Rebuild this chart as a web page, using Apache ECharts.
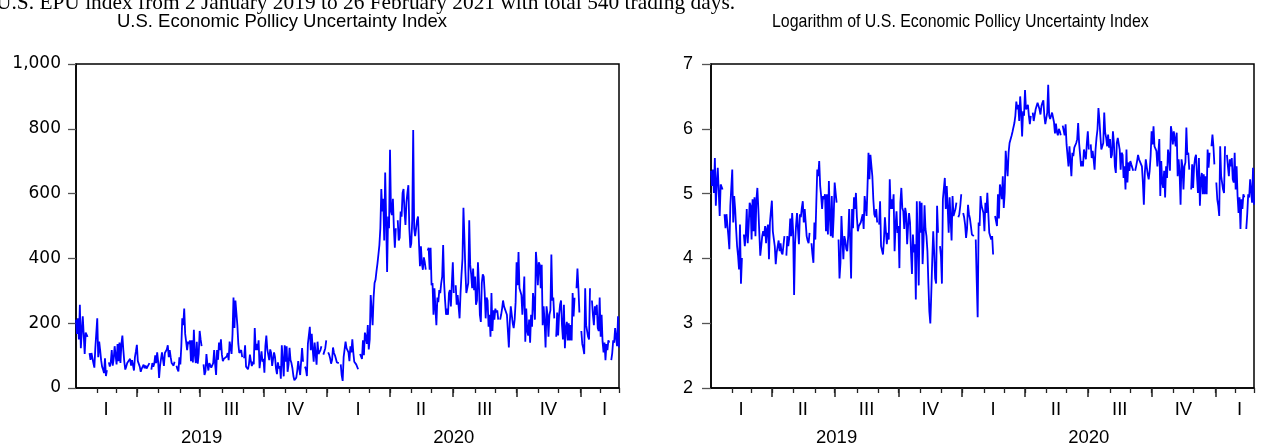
<!DOCTYPE html>
<html><head><meta charset="utf-8">
<script src="https://cdn.jsdelivr.net/npm/echarts@6/dist/echarts.min.js"></script>
<style>html,body{margin:0;padding:0;background:#fff}#c{width:1264px;height:448px}</style>
</head><body><div id="c"></div>
<script>
// ---- DATA ----
const startDate = '2019-01-02';
const endDate = '2021-02-26';
const holidays = ['2019-01-21','2019-02-18','2019-04-19','2019-05-27','2019-07-04','2019-09-02','2019-11-28','2019-12-25',
  '2020-01-01','2020-01-20','2020-02-17','2020-04-10','2020-05-25','2020-07-03','2020-09-07','2020-11-26','2020-12-25',
  '2021-01-01','2021-01-18','2021-02-15'];
const quarterNames = ['I','II','III','IV'];
const yearLabels = ['2019','2020'];
const headerText = 'U.S. EPU index from 2 January 2019 to 26 February 2021 with total 540 trading days.';
const titleLeft = 'U.S. Economic Pollicy Uncertainty Index';
const titleRight = 'Logarithm of U.S. Economic Pollicy Uncertainty Index';
// EPU daily values, one per trading day (holidays are missing)
const epuValues = [
211,167,215,150,257,123,176,221,226,105,171,176,158,
108,87,108,105,77,63,123,125,215,95,143,117,86,66,57,46,92,37,55,79,66,79,117,69,90,129,123,73,136,83,140,77,136,162,117,81,57,66,77,83,77,90,69,86,92,54,95,113,133,83,81,66,50,60,61,72,61,69,60,58,58,77,57,77,66,75,101,77,110,83,31,69,90,110,108,68,108,103,119,132,95,117,95,77,72,69,81,69,58,51,95,73,129,215,194,245,167,143,117,143,136,147,83,147,79,180,103,77,143,75,105,176,150,129,
73,40,51,105,73,54,77,72,63,61,77,117,73,40,117,87,140,117,150,103,83,90,92,95,97,108,86,143,143,105,167,279,185,270,265,194,136,108,103,117,95,92,132,66,66,58,73,103,83,68,81,73,185,117,136,117,147,61,90,113,81,90,47,129,162,119,113,86,119,108,68,90,110,95,60,43,79,60,68,29,132,136,36,132,81,129,50,72,124,86,77,61,37,24,20,32,54,83,60,40,37,
123,81,66,57,37,136,136,189,117,167,119,81,140,143,72,143,105,105,117,129,103,108,123,147,110,103,92,75,86,125,108,101,90,79,81,77,73,39,22,95,90,143,123,
123,110,83,129,110,150,110,81,81,73,77,58,105,108,90,147,101,171,158,136,194,119,150,287,293,194,279,324,334,361,
384,412,
441,493,614,545,584,455,665,518,358,529,493,735,545,534,584,493,433,493,518,455,464,545,529,602,614,545,503,573,602,626,493,433,446,518,796,493,469,493,518,529,446,376,437,384,365,403,388,365,424,433,365,
433,317,324,226,308,245,194,279,265,302,293,324,344,441,324,270,226,245,226,293,
302,252,324,388,293,317,257,287,252,215,293,351,399,556,464,361,293,287,324,518,
380,351,308,369,302,344,257,270,388,324,226,204,324,351,344,293,215,279,270,189,
226,158,293,176,240,211,245,233,240,211,211,226,245,270,252,252,252,226,176,125,
204,252,252,200,185,211,265,388,317,420,308,302,287,226,279,344,143,245,176,162,
211,140,226,189,293,265,211,420,380,317,388,380,308,380,194,252,204,125,252,226,
158,226,240,412,270,279,215,158,233,162,226,257,270,194,150,257,123,185,204,147,
200,147,194,147,293,221,279,308,369,308,233,176,136,123,105,308,194,200,158,150,
308,270,226,194,252,226,257,185,176,279,158,226,143,110,140,86,136,117,147,140,
86,108,147,140,185,155,129,221,125
];

// ---- BUILD CATEGORIES (weekdays) ----
const dates = [];
for (let d = new Date(startDate + 'T00:00:00Z'); d <= new Date(endDate + 'T00:00:00Z'); d.setUTCDate(d.getUTCDate() + 1)) {
  const wd = d.getUTCDay();
  if (wd === 0 || wd === 6) continue;
  dates.push(d.toISOString().slice(0, 10));
}
const hol = new Set(holidays);
let k = 0;
const levelData = dates.map(dt => hol.has(dt) ? '-' : (k < epuValues.length ? epuValues[k++] : '-'));
const logData = levelData.map(v => v === '-' ? '-' : Math.log(v));

const monthTicks = new Set(), quarterTicks = new Set();
const quarterGroups = {}, yearGroups = {};
dates.forEach((dt, i) => {
  const y = dt.slice(0, 4), m = +dt.slice(5, 7);
  if (i > 0 && dt.slice(5, 7) !== dates[i - 1].slice(5, 7)) {
    monthTicks.add(i);
    if ((m - 1) % 3 === 0) quarterTicks.add(i);
  }
  const q = y + '-' + Math.floor((m - 1) / 3);
  (quarterGroups[q] = quarterGroups[q] || []).push(i);
  (yearGroups[y] = yearGroups[y] || []).push(i);
});
monthTicks.add(dates.length - 1);
const quarterLabelAt = new Map();
Object.keys(quarterGroups).forEach(q => {
  const g = quarterGroups[q];
  // partial (last) quarter: label sits a little right of its centre, as in the original
  const mid = g.length < 50 ? Math.round(g[0] + g.length * 0.6) : Math.round((g[0] + g[g.length - 1]) / 2);
  quarterLabelAt.set(mid, quarterNames[+q.split('-')[1]]);
});
const yearLabelAt = new Map();
yearLabels.forEach(y => {
  const g = yearGroups[y];
  if (g) yearLabelAt.set(Math.round((g[0] + g[g.length - 1]) / 2), y);
});

// ---- OPTION ----
const FONT = '"Liberation Sans", Arial, sans-serif';
const panels = [{ left: 76 }, { left: 711 }];
const grids = [], xAxes = [], yAxes = [];
panels.forEach((p, pi) => {
  for (let j = 0; j < 3; j++) {
    grids.push({ left: p.left, top: 64, width: 543, height: 324, show: j === 0, borderColor: '#000', borderWidth: 1.5,
      backgroundColor: 'transparent', containLabel: false, outerBoundsMode: 'none' });
  }
  const g0 = pi * 3;
  xAxes.push({ type: 'category', gridIndex: g0, data: dates, boundaryGap: false,
    axisLine: { show: true, lineStyle: { color: '#000', width: 1.5 } },
    axisTick: { show: true, length: 5, interval: (i) => monthTicks.has(i), lineStyle: { color: '#222', width: 1.3 } },
    axisLabel: { show: false }, splitLine: { show: false } });
  xAxes.push({ type: 'category', gridIndex: g0 + 1, data: dates, boundaryGap: false,
    axisLine: { show: false },
    axisTick: { show: true, length: 9, interval: (i) => quarterTicks.has(i), lineStyle: { color: '#222', width: 1.5 } },
    axisLabel: { show: true, interval: (i) => quarterLabelAt.has(i), formatter: (v, i) => quarterLabelAt.get(i) || '',
      margin: 12, fontSize: 18.5, color: '#000', fontFamily: FONT },
    splitLine: { show: false } });
  xAxes.push({ type: 'category', gridIndex: g0 + 2, data: dates, boundaryGap: false,
    axisLine: { show: false }, axisTick: { show: false },
    axisLabel: { show: true, interval: (i) => yearLabelAt.has(i), formatter: (v, i) => yearLabelAt.get(i) || '',
      margin: 40, fontSize: 18.5, color: '#000', fontFamily: FONT },
    splitLine: { show: false } });
  yAxes.push(pi === 0
    ? { type: 'value', gridIndex: g0, min: 0, max: 1000, interval: 200,
        axisLine: { show: true, lineStyle: { color: '#000', width: 1.5 } },
        axisTick: { show: true, length: 8, lineStyle: { color: '#555', width: 1.3 } },
        axisLabel: { margin: 15, fontSize: 17, color: '#000', fontFamily: '"DejaVu Sans", sans-serif', formatter: (v) => v.toLocaleString('en-US') },
        splitLine: { show: false } }
    : { type: 'value', gridIndex: g0, min: 2, max: 7, interval: 1,
        axisLine: { show: true, lineStyle: { color: '#000', width: 1.5 } },
        axisTick: { show: true, length: 9, lineStyle: { color: '#555', width: 1.3 } },
        axisLabel: { margin: 18, fontSize: 18, color: '#000', fontFamily: FONT },
        splitLine: { show: false } });
  yAxes.push({ type: 'value', gridIndex: g0 + 1, show: false });
  yAxes.push({ type: 'value', gridIndex: g0 + 2, show: false });
});

const option = {
  animation: false,
  backgroundColor: '#fff',
  grid: grids,
  xAxis: xAxes,
  yAxis: yAxes,
  series: [
    { type: 'line', xAxisIndex: 0, yAxisIndex: 0, data: levelData, showSymbol: false, symbol: 'none',
      connectNulls: false, lineStyle: { color: '#0000ff', width: 1.8 }, itemStyle: { color: '#0000ff' } },
    { type: 'line', xAxisIndex: 3, yAxisIndex: 3, data: logData, showSymbol: false, symbol: 'none',
      connectNulls: false, lineStyle: { color: '#0000ff', width: 1.8 }, itemStyle: { color: '#0000ff' } }
  ],
  graphic: [
    { type: 'text', x: -4, y: 3.5, style: { text: headerText, fill: '#000', font: '21.4px "Liberation Serif", "Times New Roman", serif',
      textAlign: 'left', align: 'left', textVerticalAlign: 'middle', verticalAlign: 'middle' } },
    { type: 'text', x: 117, y: 22, style: { text: titleLeft, fill: '#000', font: '18.5px ' + FONT,
      textAlign: 'left', align: 'left', textVerticalAlign: 'middle', verticalAlign: 'middle' } },
    { type: 'text', x: 772, y: 22, scaleX: 0.86, style: { text: titleRight, fill: '#000', font: '18.5px ' + FONT,
      textAlign: 'left', align: 'left', textVerticalAlign: 'middle', verticalAlign: 'middle' } }
  ]
};
const chart = echarts.init(document.getElementById('c'), null, { renderer: 'canvas' });
chart.setOption(option);
</script>
</body></html>
